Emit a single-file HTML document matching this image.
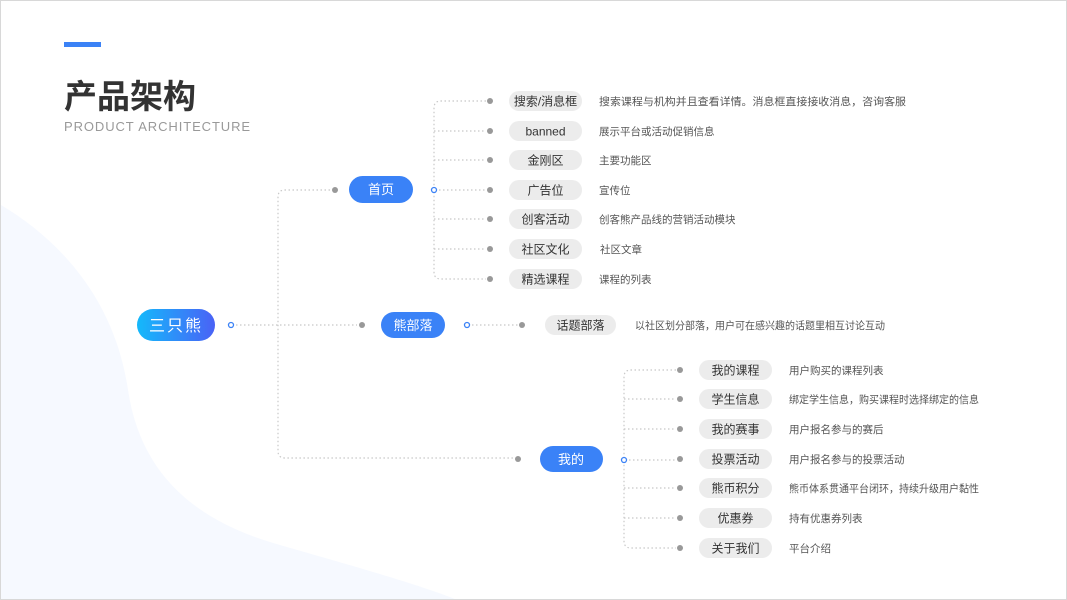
<!DOCTYPE html>
<html><head><meta charset="utf-8"><style>
html,body{margin:0;padding:0;background:#fff;}
svg{display:block;}
text{font-family:"Liberation Sans","Noto Sans CJK SC",sans-serif;}
</style></head><body>
<svg width="1067" height="600" viewBox="0 0 1067 600" xmlns="http://www.w3.org/2000/svg">
<defs>
<linearGradient id="g" x1="0" x2="1" y1="0" y2="0"><stop offset="0" stop-color="#14b9fb"/><stop offset="1" stop-color="#4a62f6"/></linearGradient>
</defs>
<rect x="0.5" y="0.5" width="1066" height="599" fill="#fff" stroke="#d8d8d8"/>
<path d="M1,205 C60,240 115,300 128,390 C140,470 190,520 280,545 C360,568 420,585 455,599 L1,599 Z" fill="#f6f9ff"/>
<rect x="64" y="42" width="37" height="5" fill="#3b82f6"/>
<text x="64" y="108" font-size="33" font-weight="bold" fill="#333">产品架构</text>
<text x="64" y="131" font-size="13" fill="#999" letter-spacing="0.9" textLength="187" lengthAdjust="spacingAndGlyphs">PRODUCT ARCHITECTURE</text>

<g fill="none" stroke="#c8c8c8" stroke-width="1.2" stroke-dasharray="1.5 2.5">
<path d="M236,325 H357"/>
<path d="M330,190 H285 Q278,190 278,197 V451 Q278,458 285,458 H514"/>
<path d="M439,190 H486"/>
<path d="M486,101 H441 Q434,101 434,108 V272 Q434,279 441,279 H486"/>
<path d="M434,131 H486 M434,160 H486 M434,219 H486 M434,249 H486"/>
<path d="M472,325 H518"/>
<path d="M629,460 H676"/>
<path d="M676,370 H631 Q624,370 624,377 V541 Q624,548 631,548 H676"/>
<path d="M624,399 H676 M624,429 H676 M624,488 H676 M624,518 H676"/>
</g>
<g fill="#999">
<circle cx="335" cy="190" r="3"/><circle cx="362" cy="325" r="3"/><circle cx="518" cy="459" r="3"/>
<circle cx="522" cy="325" r="3"/>
<circle cx="490" cy="101" r="3"/><circle cx="490" cy="131" r="3"/><circle cx="490" cy="160" r="3"/><circle cx="490" cy="190" r="3"/><circle cx="490" cy="219" r="3"/><circle cx="490" cy="249" r="3"/><circle cx="490" cy="279" r="3"/>
<circle cx="680" cy="370" r="3"/><circle cx="680" cy="399" r="3"/><circle cx="680" cy="429" r="3"/><circle cx="680" cy="459" r="3"/><circle cx="680" cy="488" r="3"/><circle cx="680" cy="518" r="3"/><circle cx="680" cy="548" r="3"/>
</g>
<g fill="#fff" stroke="#3b82f6" stroke-width="1.3">
<circle cx="231" cy="325" r="2.5"/><circle cx="434" cy="190" r="2.5"/><circle cx="467" cy="325" r="2.5"/><circle cx="624" cy="460" r="2.5"/>
</g>

<rect x="137" y="309" width="78" height="32" rx="16" fill="url(#g)"/>
<text x="176" y="331" font-size="16" fill="#fff" text-anchor="middle" letter-spacing="2">三只熊</text>
<g fill="#3a82f7">
<rect x="349" y="176" width="64" height="27" rx="13.5"/>
<rect x="381" y="312" width="64" height="26" rx="13"/>
<rect x="540" y="446" width="63" height="26" rx="13"/>
</g>
<g fill="#fff" font-size="13" text-anchor="middle">
<text x="381" y="194">首页</text>
<text x="413" y="330">熊部落</text>
<text x="571" y="464">我的</text>
</g>

<g fill="#ececec">
<rect x="509" y="91" width="73" height="20" rx="10"/><rect x="509" y="121" width="73" height="20" rx="10"/><rect x="509" y="150" width="73" height="20" rx="10"/><rect x="509" y="180" width="73" height="20" rx="10"/><rect x="509" y="209" width="73" height="20" rx="10"/><rect x="509" y="239" width="73" height="20" rx="10"/><rect x="509" y="269" width="73" height="20" rx="10"/>
<rect x="545" y="315" width="71" height="20" rx="10"/>
<rect x="699" y="360" width="73" height="20" rx="10"/><rect x="699" y="389" width="73" height="20" rx="10"/><rect x="699" y="419" width="73" height="20" rx="10"/><rect x="699" y="449" width="73" height="20" rx="10"/><rect x="699" y="478" width="73" height="20" rx="10"/><rect x="699" y="508" width="73" height="20" rx="10"/><rect x="699" y="538" width="73" height="20" rx="10"/>
</g>
<g fill="#333" font-size="12" text-anchor="middle">
<text x="545.5" y="105.5">搜索/消息框</text><text x="545.5" y="135.5">banned</text><text x="545.5" y="164.5">金刚区</text><text x="545.5" y="194.5">广告位</text><text x="545.5" y="223.5">创客活动</text><text x="545.5" y="253.5">社区文化</text><text x="545.5" y="283.5">精选课程</text>
<text x="580.5" y="329.5">话题部落</text>
<text x="735.5" y="374.5">我的课程</text><text x="735.5" y="403.5">学生信息</text><text x="735.5" y="433.5">我的赛事</text><text x="735.5" y="463.5">投票活动</text><text x="735.5" y="492.5">熊币积分</text><text x="735.5" y="522.5">优惠券</text><text x="735.5" y="552.5">关于我们</text>
</g>
<g fill="#555" font-size="10.5">
<text x="599" y="105" textLength="307" lengthAdjust="spacingAndGlyphs">搜索课程与机构并且查看详情。消息框直接接收消息，咨询客服</text>
<text x="599" y="135">展示平台或活动促销信息</text>
<text x="599" y="164">主要功能区</text>
<text x="599" y="194">宣传位</text>
<text x="599" y="223">创客熊产品线的营销活动模块</text>
<text x="600" y="253">社区文章</text>
<text x="599" y="283">课程的列表</text>
<text x="635" y="329" textLength="250" lengthAdjust="spacingAndGlyphs">以社区划分部落，用户可在感兴趣的话题里相互讨论互动</text>
<text x="789" y="374">用户购买的课程列表</text>
<text x="789" y="403" textLength="190" lengthAdjust="spacingAndGlyphs">绑定学生信息，购买课程时选择绑定的信息</text>
<text x="789" y="433">用户报名参与的赛后</text>
<text x="789" y="463">用户报名参与的投票活动</text>
<text x="789" y="492" textLength="190" lengthAdjust="spacingAndGlyphs">熊币体系贯通平台闭环，持续升级用户黏性</text>
<text x="789" y="522">持有优惠券列表</text>
<text x="789" y="552">平台介绍</text>
</g>
</svg>
</body></html>
